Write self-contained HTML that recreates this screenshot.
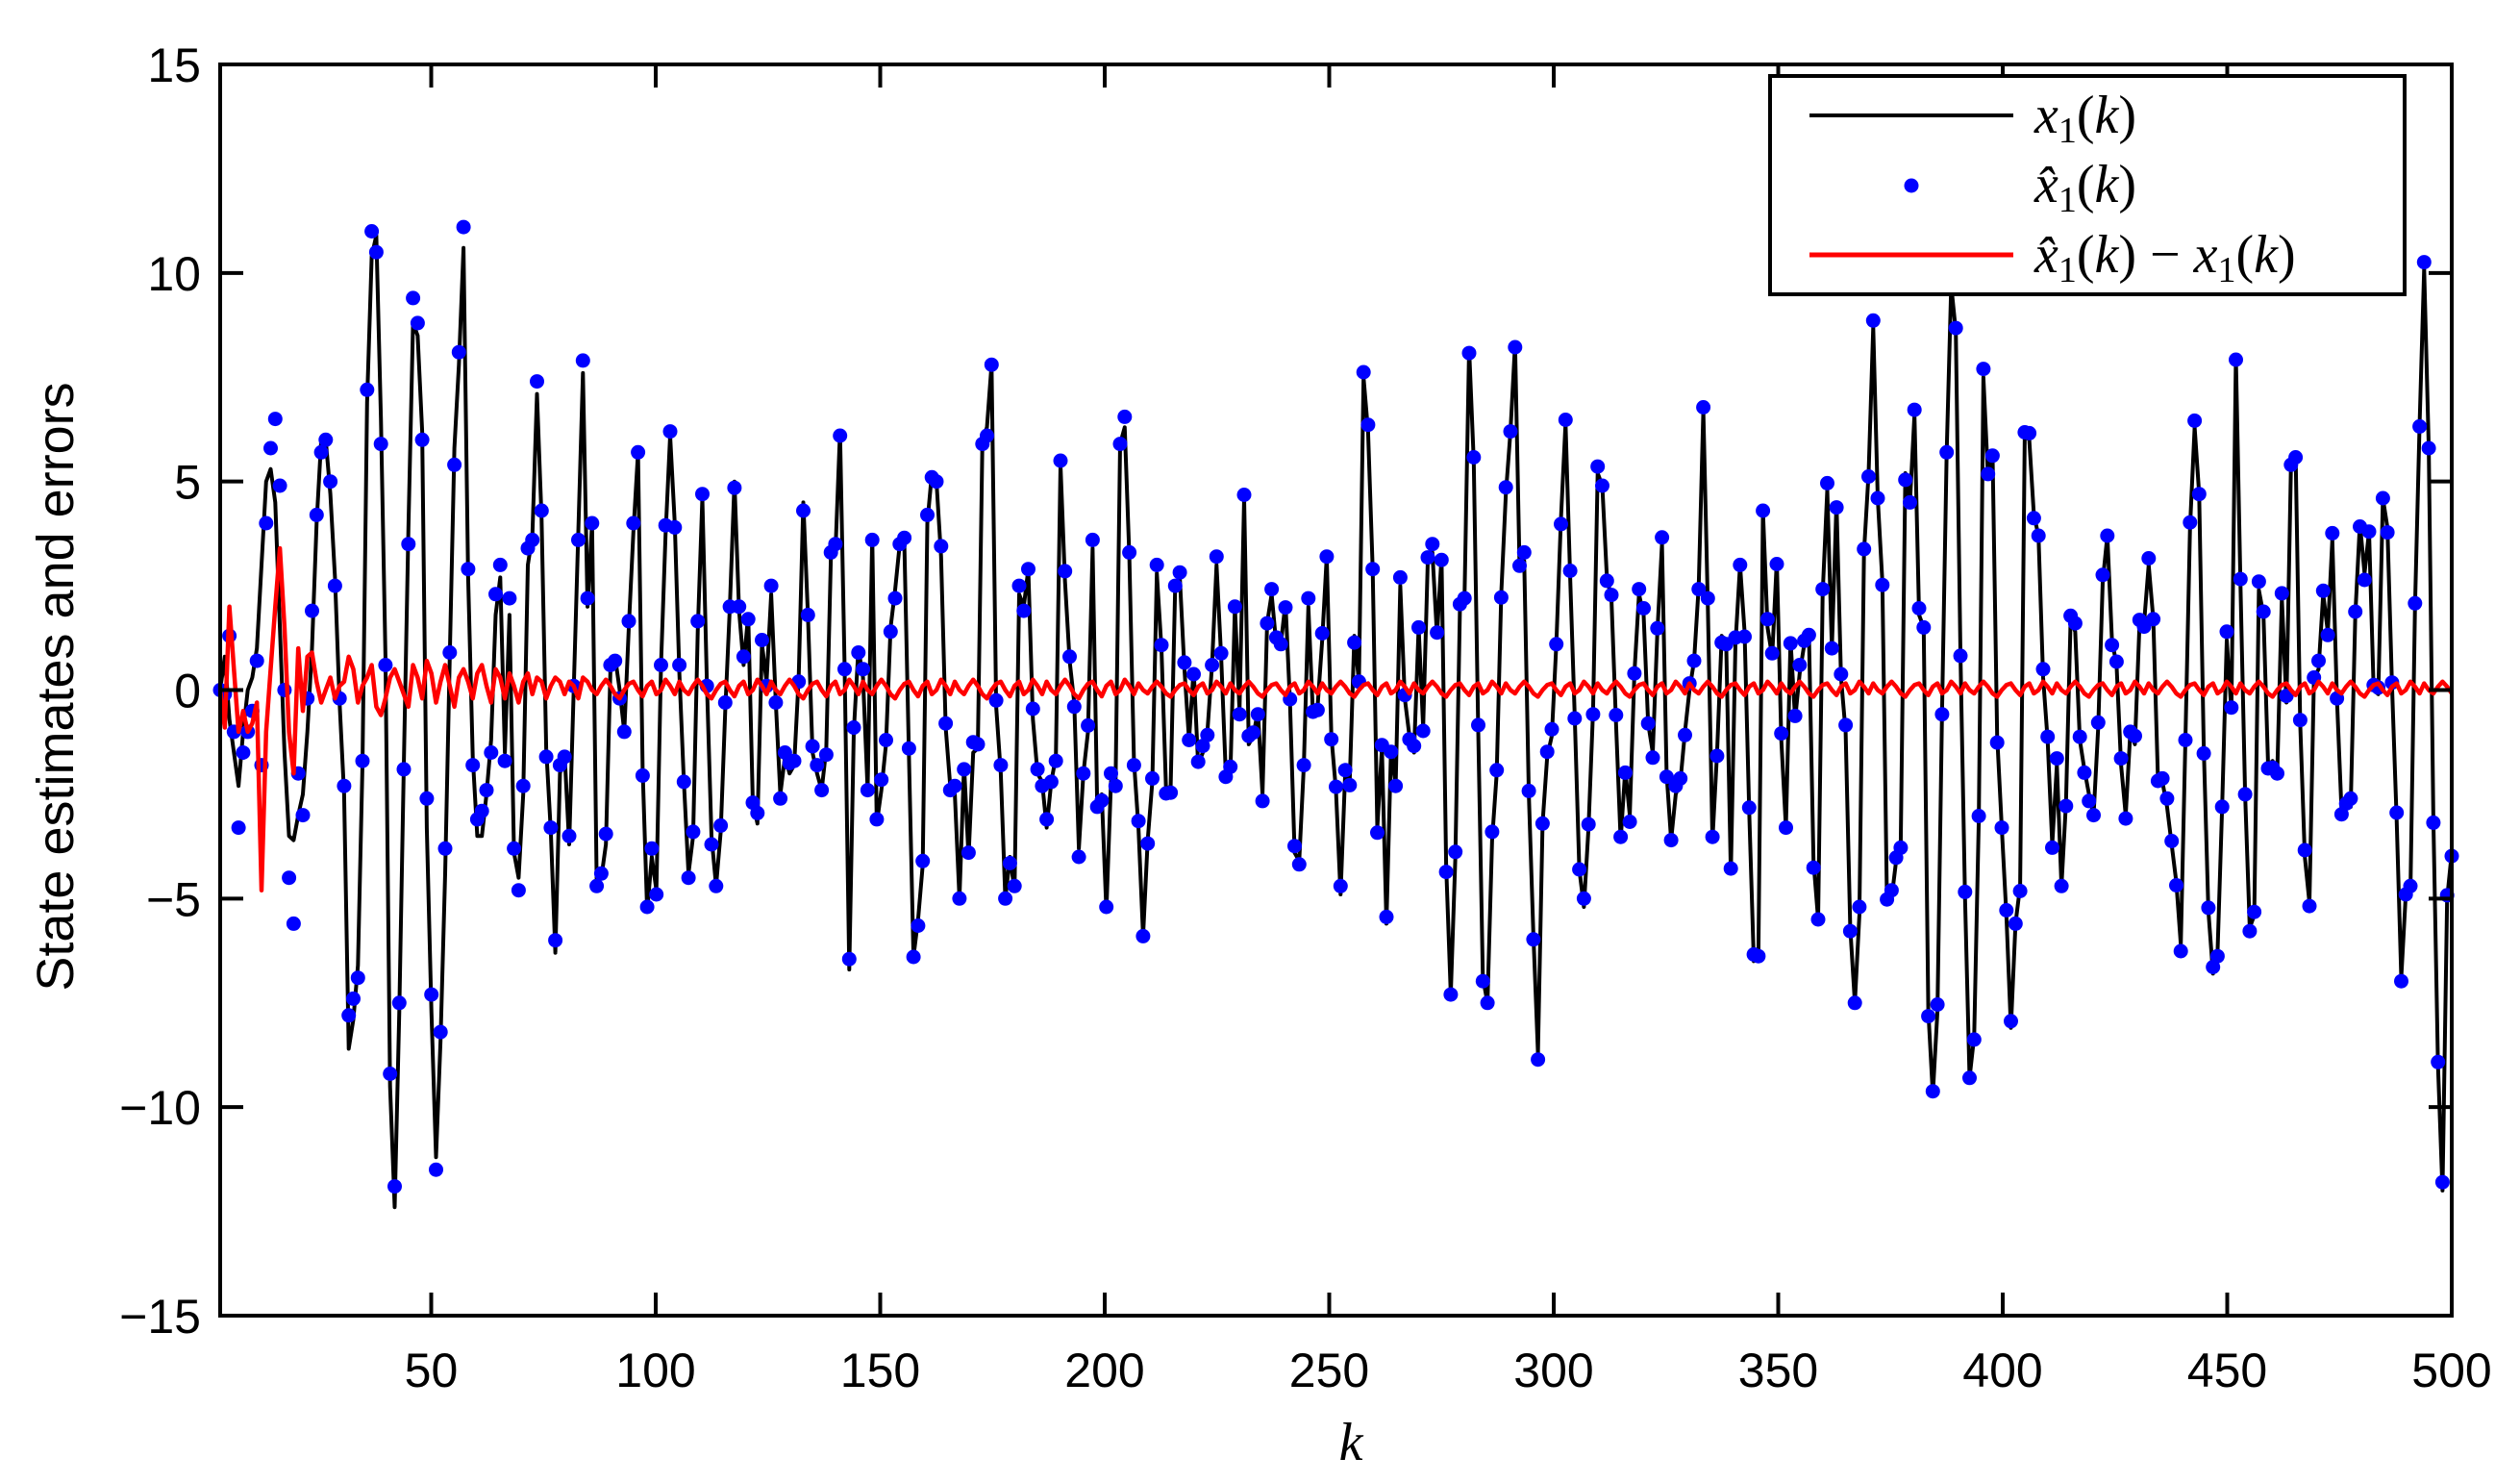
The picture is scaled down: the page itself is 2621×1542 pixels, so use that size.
<!DOCTYPE html>
<html><head><meta charset="utf-8"><style>html,body{margin:0;padding:0;background:#fff}svg{display:block}</style></head>
<body>
<svg id="chart" width="2621" height="1542" viewBox="0 0 2621 1542" xmlns="http://www.w3.org/2000/svg" font-family="Liberation Sans, sans-serif">
<rect width="2621" height="1542" fill="#fff"/>
<g id="plot"></g>
<g id="axes"></g>
</svg>
<script>
const xTicks=[50,100,150,200,250,300,350,400,450,500];
const yTicks=[-15,-10,-5,0,5,10,15];
const kStart=3,kEnd=500;
const stateValues=[0,0.8,-0.7,-1.5,-2.3,-1,0,0.3,1,3,5,5.3,4.5,1.5,-1.5,-3.5,-3.6,-3,-2.5,-1,1,4,6,6,4.7,2.7,-0.3,-2.5,-8.6,-7.9,-6.6,-1.8,6.9,10.4,10.9,6.5,0.8,-9.5,-12.4,-7.7,-1.8,3.9,8.8,8.5,6.2,-3.3,-7.7,-11.2,-8.4,-4.4,0.8,5.8,7.8,10.6,2.7,-1.6,-3.5,-3.5,-2.5,-1.2,1.8,2.7,-1.5,1.8,-3.9,-4.5,-2.5,3,3.7,7.1,4.1,-1.4,-3.4,-6.3,-2,-1.5,-3.7,0,3.8,7.6,2,4,-4.6,-4.5,-3.7,0.5,0.8,0,-1,1.5,3.8,5.7,-1.9,-5.3,-4,-4.8,0.6,3.7,6.1,4,0.4,-2.2,-4.4,-3.5,1.4,4.6,0.2,-3.5,-4.7,-3.4,-0.5,2,5,1.9,0.6,1.8,-2.7,-3.2,1.1,0.2,2.3,-0.3,-2.5,-1.6,-2,-1.8,0.3,4.5,1.8,-1.5,-2,-2.4,-1.4,3.2,3.3,6.2,0.5,-6.7,-1,1,0.3,-2.4,3.7,-3.2,-2.4,-1.3,1.5,2.4,3.5,3.5,-1.6,-6.4,-5.5,-4.2,4,5.2,5,3.2,-0.9,-2.3,-2.5,-5,-1.8,-4,-1.5,-1.4,6,6.3,7.8,-0.4,-2,-5,-4,-4.8,2.3,2,2.9,-0.7,-2,-2.2,-3.3,-2.2,-1.6,5.4,2.6,0.7,-0.3,-3.8,-2,-1,3.4,-2.8,-2.5,-5.3,-2.2,-2.2,5.9,6.3,3.2,-1.7,-3.3,-5.9,-3.6,-2.2,2.8,1,-2.4,-2.3,2.5,2.7,0.5,-1.2,0.5,-1.8,-1.5,-1,0.6,3,0.8,-2,-2,2,-0.5,4.6,-1.3,-1.1,-0.5,-2.5,1.6,2.3,1.1,1.1,2.1,-0.3,-3.9,-4.1,-1.8,2,-0.6,-0.4,1.2,3.2,-1.1,-2.4,-4.9,-2,-2.2,1.3,0.2,7.5,6.2,2.9,-3.3,-1.4,-5.6,-1.4,-2.3,2.5,-0.2,-1.1,-1.5,1.5,-0.9,3.1,3.3,1.3,3.2,-4.2,-7.3,-4,1.9,2.2,8.2,5.5,-1,-6.9,-7.5,-3.6,-2,2.3,4.7,6.2,8.3,2.9,3.1,-2.5,-5.9,-8.7,-3.2,-1.6,-1.1,1.1,4.1,6.4,2.7,-0.6,-4.3,-5.2,-3.3,-0.5,5.2,4.9,2.7,2.2,-0.8,-3.6,-1.9,-3,0.4,2.3,1.8,-0.8,-1.5,1.4,3.5,-2,-3.6,-2.5,-2.2,-1,0,0.7,2.5,6.7,2,-3.6,-1.5,1.3,1.1,-4.4,1.1,3,1.4,-2.9,-6.5,-6.3,4.3,1.5,0.8,3.1,-1.2,-3.3,1.2,-0.7,0.4,1.1,1.4,-4.1,-5.5,2.3,4.8,1,4.5,0.3,-1,-5.7,-7.5,-5.4,3.3,5.2,8.7,4.6,2.6,-5.1,-5,-4.1,-3.7,5.2,4.5,6.6,1.8,1.5,-7.7,-9.7,-7.7,-0.5,5.7,9.7,8.6,0.9,-5,-9.3,-8.3,-3.1,7.5,5.1,5.7,-1.1,-3.3,-5.4,-8.1,-5.6,-4.7,6.1,6,4.2,3.7,0.3,-1.2,-3.7,-1.8,-4.7,-2.7,1.7,1.4,-1.2,-1.9,-2.5,-3,-0.9,2.6,3.7,1.2,0.6,-1.8,-3,-1,-1.3,1.6,1.6,3,1.7,-2.1,-2.2,-2.8,-3.7,-4.6,-6.1,-1.2,3.9,6.3,4.7,-1.4,-5.3,-6.8,-6.3,-2.8,1.2,-0.5,8,2.5,-2.5,-5.7,-5.4,2.4,1.8,-1.8,-1.7,-2,2.2,-0.3,5.4,5.7,-0.8,-4,-5.1,0.3,0.5,2.3,1.4,3.6,-0.2,-2.9,-2.8,-2.8,1.8,4,2.8,3.8,0,-0.1,4.6,3.9,0.1,-3.1,-6.9,-4.9,-4.9,2,6.4,10.1,5.8,-3.1,-9,-12,-5,-3.9];
const errorEarly=[0,-0.9,2,0.5,-1,-0.5,-1,-0.8,-0.3,-4.8,-1,0.5,2,3.4,1.5,-1,-2,1,-0.5,0.8,0.9,0.2,-0.3,0,0.3,-0.2,0.1,0.2,0.8,0.5,-0.3,0.1,0.3,0.6,-0.4,-0.6,-0.2,0.3,0.5,0.2,-0.1,-0.4,0.6,0.3,-0.2,0.7,0.4,-0.3,0.2,0.6,0.1,-0.4,0.3,0.5,0.2,-0.2,0.4,0.6,0.1,-0.3,0.5,0.3,-0.2,0.4,0.1,-0.3,0.2,0.4,-0.1,0.3,0.2,-0.2,0.1,0.3,0.2,-0.1,0.2,0.1,-0.2,0.3];
const errorLate=[0.2,0,-0.1,0.1,0.25,0.1,-0.1,-0.2,0,0.15,0.2,0,-0.15,0.1,0.2,-0.1,0,0.25,0.1,-0.1];
const errorValues=stateValues.map((v,i)=>i<errorEarly.length?errorEarly[i]:errorLate[i%errorLate.length]*(i<200?1:0.8));

const L=229,R=2550,T=67,B=1368;
const xs=k=>L+(k-kStart)/(kEnd-kStart)*(R-L);
const ys=v=>B-(v+15)/30*(B-T);
const NS="http://www.w3.org/2000/svg";
const plot=document.getElementById('plot'),axes=document.getElementById('axes');
function mk(tag,attrs,parent){const e=document.createElementNS(NS,tag);for(const a in attrs)e.setAttribute(a,attrs[a]);parent.appendChild(e);return e;}
const N=stateValues.length;
const kAt=i=>kStart+i*(kEnd-kStart)/(N-1);
let d='';stateValues.forEach((v,i)=>{d+=(i?'L':'M')+xs(kAt(i)).toFixed(1)+' '+ys(v).toFixed(1);});
const line=mk('path',{d:d,fill:'none',stroke:'#000','stroke-width':4,'stroke-linejoin':'round'},plot);


const dg=mk('g',{fill:'#0000ff'},plot);


stateValues.forEach((v,i)=>{const c=mk('circle',{cx:xs(kAt(i)).toFixed(1),cy:ys(v+errorValues[i]).toFixed(1),r:7.5},dg);

});
let de='';errorValues.forEach((v,i)=>{de+=(i?'L':'M')+xs(kAt(i)).toFixed(1)+' '+ys(v).toFixed(1);});
const el=mk('path',{d:de,fill:'none',stroke:'#ff0000','stroke-width':4.5,'stroke-linejoin':'round'},plot);


const box=mk('rect',{x:L,y:T,width:R-L,height:B-T,fill:'none',stroke:'#000','stroke-width':4},axes);


xTicks.forEach(t=>{const x=xs(t);
mk('line',{x1:x,x2:x,y1:B,y2:B-24,stroke:'#000','stroke-width':4},axes);
mk('line',{x1:x,x2:x,y1:T,y2:T+24,stroke:'#000','stroke-width':4},axes);
const tx=mk('text',{x:x,y:B+74,'font-size':50,'text-anchor':'middle'},axes);tx.textContent=t;

});
yTicks.forEach(t=>{const y=ys(t);
mk('line',{x1:L,x2:L+24,y1:y,y2:y,stroke:'#000','stroke-width':4},axes);
mk('line',{x1:R,x2:R-24,y1:y,y2:y,stroke:'#000','stroke-width':4},axes);
const tx=mk('text',{x:L-20,y:y+18,'font-size':50,'text-anchor':'end'},axes);tx.textContent=(t<0?'\u2212'+(-t):t);

});
</script>
<svg style="position:absolute;left:0;top:0" width="2621" height="1542" xmlns="http://www.w3.org/2000/svg">
<text x="1405" y="1518" font-family="Liberation Serif, serif" font-style="italic" font-size="56" text-anchor="middle">k</text>
<text transform="translate(76,714) rotate(-90)" font-family="Liberation Sans, sans-serif" font-size="54" text-anchor="middle">State estimates and errors</text>
<g>
<rect x="1841" y="79" width="660" height="227" fill="#fff" stroke="#000" stroke-width="4"/>
<line x1="1882" x2="2094" y1="120" y2="120" stroke="#000" stroke-width="4"/>
<text x="2116" y="138" font-family="Liberation Serif, serif" font-size="56"><tspan font-style="italic">x</tspan><tspan font-size="38" dy="10">1</tspan><tspan dy="-10">(</tspan><tspan font-style="italic">k</tspan>)</text>
<circle cx="1988" cy="193" r="7.5" fill="#0000ff"/>
<text x="2116" y="210" font-family="Liberation Serif, serif" font-size="56"><tspan font-style="italic">x̂</tspan><tspan font-size="38" dy="10">1</tspan><tspan dy="-10">(</tspan><tspan font-style="italic">k</tspan>)</text>
<line x1="1882" x2="2094" y1="265" y2="265" stroke="#ff0000" stroke-width="5"/>
<text x="2116" y="283" font-family="Liberation Serif, serif" font-size="56"><tspan font-style="italic">x̂</tspan><tspan font-size="38" dy="10">1</tspan><tspan dy="-10">(</tspan><tspan font-style="italic">k</tspan>) − <tspan font-style="italic">x</tspan><tspan font-size="38" dy="10">1</tspan><tspan dy="-10">(</tspan><tspan font-style="italic">k</tspan>)</text>
</g>
</svg>
</body></html>
